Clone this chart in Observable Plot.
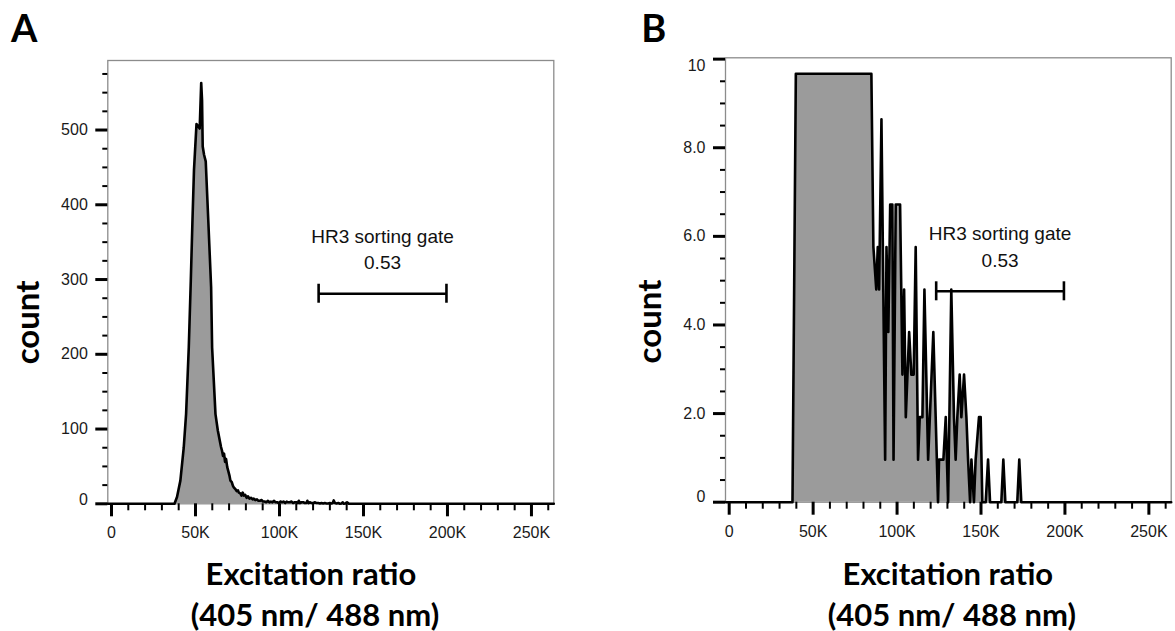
<!DOCTYPE html>
<html><head><meta charset="utf-8">
<script src="https://cdn.jsdelivr.net/npm/d3@7"></script>
<script src="https://cdn.jsdelivr.net/npm/@observablehq/plot@0.6"></script>
<style>
html,body{margin:0;padding:0;background:#fff;}
#wrap{position:relative;width:1175px;height:631px;overflow:hidden;background:#fff;}
#a{position:absolute;left:0;top:0;}
#b{position:absolute;left:600px;top:0;}
</style></head>
<body><div id="wrap"><div id="a"></div><div id="b"></div></div>
<script>
// ---- shared axis data (x in thousands) ----
const xTicks = [0, 50, 100, 150, 200, 250];
const xTickLabels = ["0", "50K", "100K", "150K", "200K", "250K"];
const xMinorTicks = [10, 20, 30, 40, 60, 70, 80, 90, 110, 120, 130, 140, 160, 170, 180, 190, 210, 220, 230, 240, 260];
const xDomain = [-2.2, 263.3];

// ---- panel A ----
const aYTicks = [0, 100, 200, 300, 400, 500];
const aYTickLabels = ["0", "100", "200", "300", "400", "500"];
const aYMinor = [25, 50, 75, 125, 150, 175, 225, 250, 275, 325, 350, 375, 425, 450, 475, 525, 550, 575];
const aYMax = 593;
const aX = [
  -2.2, 37.5, 39, 41, 43, 44.4, 46, 47.2, 48.2, 49.1,
  50.6, 51.6, 52.5, 53.4, 53.9, 54.3, 55.1, 56.1, 57.6, 59.3,
  59.9, 61.9, 63.3, 64.5, 65.2, 65.8, 66.4, 67, 67.6, 68.2,
  68.9, 69.5, 70.3, 70.8, 71.6, 72.3, 72.8, 73.6, 74.5, 75.3,
  75.8, 76.7, 77.4, 78.1, 78.8, 79.6, 80.4, 81.2, 82.1, 83,
  84, 84.7, 85.6, 86.6, 87.5, 88.4, 89.4, 90.2, 91.1, 92.1,
  93, 94, 94.9, 95.8, 96.8, 97.7, 98.6, 99.6, 100.5, 101.5,
  102.4, 103.4, 104.3, 105.2, 106.2, 107.2, 108.1, 109.1, 110, 111,
  111.5, 112.2, 113.2, 114.1, 115.1, 116, 116.6, 117.3, 118.3, 119.2,
  120.2, 121.2, 122.1, 123.1, 124.1, 125, 126, 127, 128, 129,
  130, 131, 131.7, 132.3, 133, 134, 135, 136, 137, 137.6,
  138.3, 139.2, 140.2, 141.3, 263.3
];
const aCount = [
  0, 0, 9, 31, 75, 120, 209, 298, 379, 446,
  508, 505, 502, 563, 540, 478, 467, 458, 380, 290,
  209, 120, 98, 84, 76, 71, 64, 67, 56, 60,
  49, 44, 37, 31, 29, 24, 22, 20, 17, 18,
  15, 14, 11, 15, 11, 12, 8, 10, 7, 8,
  6, 7, 5, 6, 4, 4, 5, 3, 3, 2,
  4, 2, 3, 2, 4, 2, 2, 1, 3, 2,
  3, 1, 3, 2, 2, 3, 1, 2, 2, 1,
  4, 1, 2, 2, 1, 1, 4, 1, 2, 1,
  1, 2, 1, 1, 0.5, 1, 0.5, 1, 0.5, 0.5,
  1, 0.5, 1, 4.5, 1, 0.5, 1, 0, 0.5, 2,
  0, 0.5, 2, 0, 0
];

// ---- panel B ----
const bYTicks = [0, 2, 4, 6, 8, 10];
const bYTickLabels = ["0", "2.0", "4.0", "6.0", "8.0", "10"];
const bYMinor = [0.5, 1, 1.5, 2.5, 3, 3.5, 4.5, 5, 5.5, 6.5, 7, 7.5, 8.5, 9, 9.5];
const bYMax = 10.03;
const bX = [
  -2, 37.7, 39.7, 84.7, 85.9, 87.6, 88.5, 89.3, 90.7, 92.9,
  93.7, 94.8, 95.9, 97.2, 97.9, 99.2, 101.8, 103.2, 104.2, 105.2,
  107.2, 108.5, 109.9, 111.1, 112.5, 113.5, 115.1, 116.3, 118.5, 121.6,
  124.4, 125, 127.6, 129, 130.4, 132.3, 133.9, 134.9, 135.9, 137.3,
  138.3, 139.9, 141.3, 142.3, 143.5, 144.3, 145.8, 146.8, 148.8, 149.8,
  150.8, 152.8, 154.2, 155.4, 162.1, 163.3, 164.5, 171.6, 172.8, 174,
  263.3
];
const bCount = [
  0, 0, 9.67, 9.67, 5.76, 4.8, 5.76, 4.8, 8.64, 0.96,
  5.76, 3.84, 6.72, 6.72, 0.96, 6.72, 6.72, 2.88, 4.8, 1.92,
  3.84, 2.88, 2.88, 5.76, 0.96, 1.92, 1.92, 4.8, 0.96, 3.84,
  0, 0.96, 0.96, 1.92, 0, 4.8, 1.92, 0.96, 1.92, 2.88,
  1.92, 2.88, 1.92, 0.96, 0, 0.96, 0, 0.96, 1.92, 1.92,
  0, 0, 0.96, 0, 0, 0.96, 0, 0, 0.96, 0,
  0
];

// ---- gate annotation ----
const gateX = [123.3, 199.4];
const gateYA = 281;
const gateYB = 4.76;
const gateLabel = "HR3 sorting gate";
const gateValue = "0.53";

// ---- titles ----
const yTitle = "count";
const xTitle1 = "Excitation ratio";
const xTitle2 = "(405 nm/ 488 nm)";

const BOLD = "Lato, 'Open Sans', sans-serif";
const TICKFS = 16;

function panel(cfg) {
  const data = cfg.xs.map((x, i) => ({x, y: cfg.ys[i]}));
  const H = 631;
  const plotH = H - cfg.mT - cfg.mB;
  const half = 9.5 * cfg.yMax / plotH;
  const gate = [{x1: gateX[0], x2: gateX[1], y: cfg.gateY}];
  const gateMid = (gateX[0] + gateX[1]) / 2;
  const n = cfg.yTicks.length;
  const lab = (i) => cfg.yLabels[i];
  const midIdx = d3.range(1, n - 1);
  const boldText = {fontFamily: BOLD, fontWeight: 700, fill: "#000"};
  const tickText = {frameAnchor: "left", dx: -20, textAnchor: "end", fontSize: TICKFS, fill: "#1a1a1a"};
  return Plot.plot({
    width: cfg.width, height: H,
    marginLeft: cfg.mL, marginRight: cfg.mR, marginTop: cfg.mT, marginBottom: cfg.mB,
    x: {domain: xDomain, label: null},
    y: {domain: [0, cfg.yMax], label: null},
    style: {fontFamily: "'Liberation Sans', Arial, sans-serif", fontSize: TICKFS + "px", background: "white", overflow: "visible", color: "#1a1a1a"},
    marks: [
      Plot.frame({stroke: "#8c8c8c", strokeWidth: 1.3}),
      Plot.areaY(data, {x: "x", y: "y", fill: "#9b9b9b"}),
      Plot.lineY(data, {x: "x", y: "y", stroke: "#000", strokeWidth: 2.6, strokeLinejoin: "round"}),
      // x axis
      Plot.axisX(xMinorTicks, {tickSize: 7, tickFormat: () => "", stroke: "#000", strokeWidth: 2, label: null}),
      Plot.axisX(xTicks, {tickSize: 13, tickPadding: 10, tickFormat: d => xTickLabels[xTicks.indexOf(d)], stroke: "#000", strokeWidth: 3, fill: "#1a1a1a", fontSize: TICKFS, label: null}),
      // y axis
      Plot.axisY(cfg.yMinor, {tickSize: 5, tickFormat: () => "", stroke: "#000", strokeWidth: 2, label: null}),
      Plot.axisY(cfg.yTicks, {tickSize: 12, tickFormat: () => "", stroke: "#000", strokeWidth: 3, label: null}),
      Plot.text(midIdx, {y: i => cfg.yTicks[i], text: lab, ...tickText}),
      Plot.text([0], {y: i => cfg.yTicks[i], text: lab, dy: cfg.firstDy, ...tickText}),
      Plot.text([n - 1], {y: i => cfg.yTicks[i], text: lab, dy: cfg.lastDy, ...tickText}),
      // gate
      Plot.ruleY(gate, {x1: "x1", x2: "x2", y: "y", stroke: "#000", strokeWidth: 2.6}),
      Plot.ruleX(gateX, {x: d => d, y1: cfg.gateY - half, y2: cfg.gateY + half, stroke: "#000", strokeWidth: 2.6}),
      Plot.text([gateLabel], {x: gateMid, y: cfg.gateY, text: d => d, dy: -51, lineAnchor: "bottom", fontSize: 19, fill: "#111"}),
      Plot.text([gateValue], {x: gateMid, y: cfg.gateY, text: d => d, dy: -24.5, lineAnchor: "bottom", fontSize: 19, fill: "#111"}),
      // titles
      Plot.text([cfg.letter], {text: d => d, frameAnchor: "top-left", dx: cfg.letterDx, dy: cfg.letterDy, lineAnchor: "bottom", textAnchor: "start", fontSize: 38, ...boldText}),
      Plot.text([yTitle], {text: d => d, frameAnchor: "left", rotate: -90, dx: cfg.yTitleDx, dy: cfg.yTitleDy, lineAnchor: "bottom", textAnchor: "middle", fontSize: 33, ...boldText}),
      Plot.text([xTitle1], {text: d => d, frameAnchor: "bottom", dx: cfg.xT1Dx, dy: cfg.xT1Dy, lineAnchor: "bottom", textAnchor: "middle", fontSize: 31, ...boldText}),
      Plot.text([xTitle2], {text: d => d, frameAnchor: "bottom", dx: cfg.xT2Dx, dy: cfg.xT2Dy, lineAnchor: "bottom", textAnchor: "middle", fontSize: 31, ...boldText})
    ]
  });
}

document.getElementById("a").append(panel({
  xs: aX, ys: aCount, yMax: aYMax, yTicks: aYTicks, yLabels: aYTickLabels, yMinor: aYMinor,
  width: 600, mL: 107.3, mR: 46.7, mT: 60, mB: 127.7,
  firstDy: -4, lastDy: 0, gateY: gateYA, letter: "A",
  letterDx: -96.9, letterDy: -18.3,
  yTitleDx: -68.5, yTitleDy: 40.3,
  xT1Dx: -19.9, xT1Dy: 80.7, xT2Dx: -15.8, xT2Dy: 121.7
}));
document.getElementById("b").append(panel({
  xs: bX, ys: bCount, yMax: bYMax, yTicks: bYTicks, yLabels: bYTickLabels, yMinor: bYMinor,
  width: 575, mL: 125, mR: 4.3, mT: 57.3, mB: 129.3,
  firstDy: -5, lastDy: 7, gateY: gateYB, letter: "B",
  letterDx: -84.3, letterDy: -15.6,
  yTitleDx: -65, yTitleDy: 41.5,
  xT1Dx: -0.5, xT1Dy: 82.3, xT2Dx: 3.5, xT2Dy: 123.3
}));
</script>
</body></html>
